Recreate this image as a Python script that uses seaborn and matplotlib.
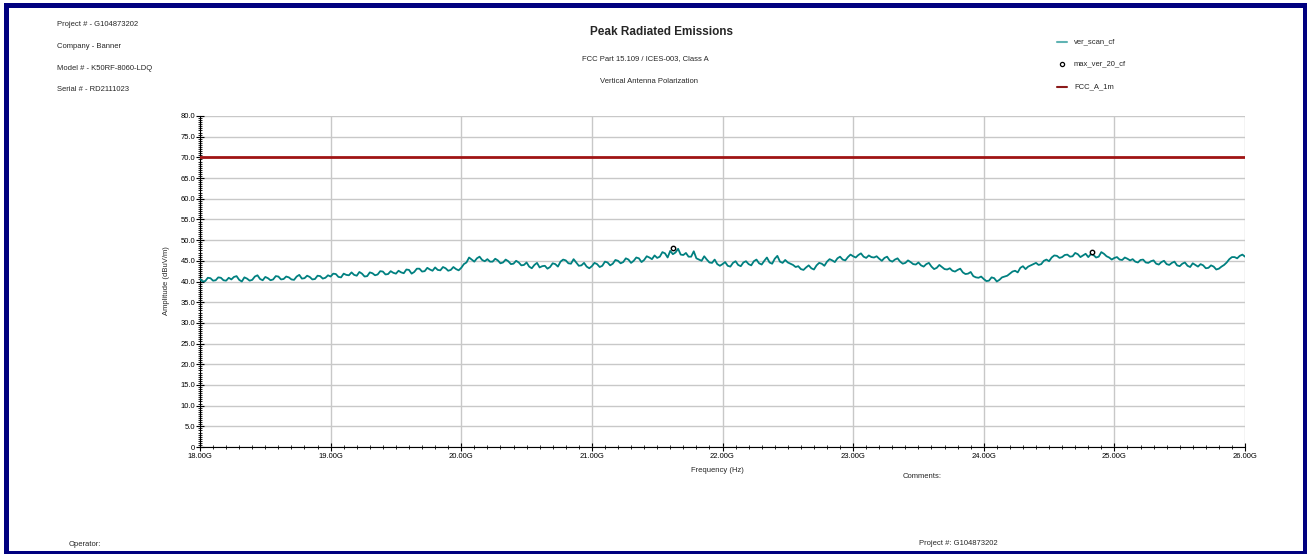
import numpy as np
import pandas as pd
import matplotlib
matplotlib.use("Agg")
import matplotlib.pyplot as plt
import seaborn as sns
from matplotlib.lines import Line2D
from matplotlib.patches import Rectangle
from matplotlib.ticker import MultipleLocator, FuncFormatter

# ---------------- data ----------------
freq_ghz = [round(18.0 + 0.04 * i, 2) for i in range(201)]
amp_scan = [
    # 18.00 - 18.96
    40.6, 40.1, 40.8, 40.3, 40.9, 40.2, 40.5, 41.3, 40.0, 40.7, 40.4, 41.5, 40.3,
    40.8, 40.5, 41.2, 40.6, 41.0, 40.4, 41.6, 40.8, 41.1, 40.6, 41.3, 40.9,
    # 19.00 - 19.96
    41.2, 41.8, 41.0, 41.6, 42.2, 41.4, 41.9, 41.3, 42.0, 41.7, 42.4, 41.8, 42.1,
    42.6, 42.0, 42.8, 42.3, 43.1, 42.5, 42.9, 43.4, 42.7, 43.2, 42.8, 43.0,
    # 20.00 - 20.96
    43.3, 44.6, 45.3, 45.6, 45.2, 45.4, 44.8, 45.1, 44.6, 44.9, 44.3, 44.6, 44.0,
    43.6, 44.0, 43.4, 43.8, 43.5, 44.2, 44.8, 45.1, 44.3, 44.6, 43.9, 43.6,
    # 21.00 - 21.96
    43.7, 44.2, 43.8, 44.6, 44.3, 45.0, 44.7, 45.3, 45.0, 45.6, 45.2, 45.8, 46.3,
    46.0, 46.8, 47.4, 47.0, 46.5, 46.9, 46.0, 45.6, 45.0, 45.3, 44.5, 44.2,
    # 22.00 - 22.96
    44.2, 43.8, 44.5, 44.0, 44.6, 44.2, 44.9, 44.4, 45.0, 44.6, 45.5, 44.8, 45.2,
    44.3, 43.5, 43.0, 43.4, 43.2, 43.9, 44.3, 44.8, 45.1, 45.6, 45.3, 45.9,
    # 23.00 - 23.96
    46.1, 46.4, 46.0, 46.3, 45.8, 45.5, 45.7, 45.1, 45.3, 44.8, 44.5, 44.7, 44.1,
    43.9, 44.2, 43.6, 43.3, 43.5, 42.9, 42.6, 42.8, 42.2, 41.9, 41.3, 40.9,
    # 24.00 - 24.96
    40.6, 40.2, 40.8, 40.4, 41.2, 41.9, 42.6, 43.3, 43.0, 43.9, 44.5, 44.2, 45.3,
    45.8, 46.2, 45.9, 46.5, 46.1, 46.6, 46.3, 45.9, 46.4, 46.0, 46.7, 45.8,
    # 25.00 - 25.96
    45.7, 45.3, 45.8, 45.1, 44.8, 45.2, 44.6, 44.9, 44.3, 44.7, 44.2, 44.5, 43.9,
    44.3, 43.8, 44.4, 43.6, 43.9, 43.3, 43.6, 43.1, 44.0, 45.4, 45.9, 46.2,
    # 26.00
    46.0,
]
freq_mid_ghz = [round(18.02 + 0.04 * i, 2) for i in range(200)]
amp_scan_mid = [
    # 18.02 - 18.98
    40.0, 40.9, 40.2, 41.0, 40.3, 40.9, 41.1, 40.4, 41.0, 40.2, 41.2, 40.6, 41.1,
    40.3, 41.3, 40.5, 41.2, 40.5, 41.2, 40.7, 41.4, 40.5, 41.4, 40.7, 41.5,
    # 19.02 - 19.98
    41.9, 41.1, 41.9, 41.5, 41.6, 42.3, 41.2, 42.2, 41.5, 42.5, 41.7, 42.5, 41.9,
    42.2, 42.9, 41.9, 43.1, 42.4, 43.3, 42.6, 42.8, 43.5, 42.6, 43.5, 42.7,
    # 20.02 - 20.98
    44.2, 45.8, 44.8, 46.0, 44.9, 44.8, 45.5, 44.4, 45.3, 44.2, 45.0, 43.9, 44.6,
    43.2, 44.5, 43.7, 43.1, 44.4, 43.6, 45.3, 44.4, 45.4, 43.8, 44.5, 43.2,
    # 21.02 - 21.98
    44.5, 43.5, 44.8, 43.9, 45.2, 44.4, 45.6, 44.5, 45.8, 44.7, 46.1, 45.4, 45.7,
    47.1, 45.8, 46.6, 47.9, 46.4, 46.0, 47.3, 45.3, 46.1, 44.6, 45.3, 43.8,
    # 22.02 - 22.98
    44.7, 43.6, 44.9, 43.7, 44.9, 43.9, 45.3, 44.1, 45.8, 44.3, 46.2, 44.5, 44.6,
    44.0, 43.7, 42.8, 43.9, 42.9, 44.5, 43.8, 45.4, 44.7, 46.0, 45.1, 46.5,
    # 23.02 - 23.98
    45.8, 46.8, 45.7, 45.9, 46.1, 45.0, 46.0, 44.8, 45.6, 44.3, 45.1, 44.2, 44.6,
    43.6, 44.5, 43.0, 44.0, 43.0, 43.2, 42.4, 43.1, 41.8, 42.3, 41.0, 41.2,
    # 24.02 - 24.98
    40.1, 41.0, 40.0, 41.0, 41.4, 42.4, 42.2, 43.7, 43.6, 44.2, 44.0, 45.0, 44.9,
    46.3, 45.7, 46.4, 46.0, 46.9, 45.9, 46.7, 46.6, 45.8, 47.1, 46.1, 45.3,
    # 25.02 - 25.98
    45.9, 45.2, 45.5, 45.4, 44.6, 45.3, 44.5, 45.1, 44.1, 45.0, 44.0, 44.8, 43.7,
    44.6, 43.5, 44.0, 44.2, 43.2, 43.9, 42.9, 43.6, 44.6, 45.9, 45.6, 46.5,
]
max_freq_ghz = [21.62, 24.83]
max_amp = [48.2, 47.2]
limit_freq_ghz = [18.0, 26.0]
limit_amp = [70.0, 70.0]

header_lines = ["Project # - G104873202", "Company - Banner",
                "Model # - K50RF-8060-LDQ", "Serial # - RD2111023"]
title = "Peak Radiated Emissions"
subtitle1 = "FCC Part 15.109 / ICES-003, Class A"
subtitle2 = "Vertical Antenna Polarization"
legend_labels = ["ver_scan_cf", "max_ver_20_cf", "FCC_A_1m"]
x_label = "Frequency (Hz)"
y_label = "Amplitude (dBuV/m)"

# ---------------- figure ----------------
sns.set_theme(style="white")
plt.rcParams["font.family"] = ["Liberation Sans", "DejaVu Sans"]

W, H = 1307, 554
fig = plt.figure(figsize=(W / 100, H / 100), dpi=100)
fig.patch.set_facecolor("white")

def fx(px):
    return px / W

def fy(py):
    return 1 - py / H

ax = fig.add_axes([fx(200), fy(447), fx(1245) - fx(200), fy(116) - fy(447)])

scan_df = pd.concat([
    pd.DataFrame({"f": freq_ghz, "a": amp_scan}),
    pd.DataFrame({"f": freq_mid_ghz, "a": amp_scan_mid}),
]).sort_values("f").reset_index(drop=True)
lim_df = pd.DataFrame({"f": limit_freq_ghz, "a": limit_amp})
max_df = pd.DataFrame({"f": max_freq_ghz, "a": max_amp})

sns.lineplot(data=scan_df, x="f", y="a", ax=ax, color="#008080", lw=1.3,
             estimator=None, sort=False, zorder=3)
sns.lineplot(data=lim_df, x="f", y="a", ax=ax, color="#a01414", lw=2.0,
             estimator=None, zorder=4)
sns.scatterplot(data=max_df, x="f", y="a", ax=ax, marker="o", s=10,
                facecolor="white", edgecolor="black", linewidth=1.0, zorder=5)

ax.set_xlim(18.0, 26.0)
ax.set_ylim(0, 80)
ax.xaxis.set_major_locator(MultipleLocator(1.0))
ax.xaxis.set_minor_locator(MultipleLocator(0.1))
ax.yaxis.set_major_locator(MultipleLocator(5.0))
ax.yaxis.set_minor_locator(MultipleLocator(0.5))
ax.xaxis.set_major_formatter(FuncFormatter(lambda v, p: f"{v:.2f}G"))
ax.yaxis.set_major_formatter(FuncFormatter(lambda v, p: "0" if abs(v) < 1e-9 else f"{v:.1f}"))

ax.grid(True, which="major", color="#c8c8c8", lw=1.0, zorder=0)
ax.set_axisbelow(True)
for s in ["top", "right"]:
    ax.spines[s].set_visible(False)
for s in ["left", "bottom"]:
    ax.spines[s].set_visible(True)
    ax.spines[s].set_color("black")
    ax.spines[s].set_linewidth(0.8)

ax.tick_params(axis="x", which="both", bottom=True, top=False)
ax.tick_params(axis="y", which="both", left=True, right=False)
ax.tick_params(axis="both", which="major", direction="inout", length=6, width=0.8,
               color="black", labelsize=5.5, labelcolor="black")
ax.tick_params(axis="both", which="minor", direction="inout", length=3, width=0.6,
               color="black")
ax.tick_params(axis="x", which="major", pad=1)
ax.tick_params(axis="y", which="major", pad=0.5)
ax.set_xlabel("")
ax.set_ylabel("")

# axis labels
fig.text(fx(717), fy(470), x_label, ha="center", va="center", fontsize=5.5)
fig.text(fx(167), fy(281), y_label, ha="center", va="center", fontsize=5.5, rotation=90)

# header text
for i, t in enumerate(header_lines):
    fig.text(fx(57), fy([25, 47, 68, 89][i]), t, ha="left", va="center", fontsize=5.5)

fig.text(fx(662), fy(32), title, ha="center", va="center", fontsize=8.5, fontweight="bold")
fig.text(fx(645), fy(58.5), subtitle1, ha="center", va="center", fontsize=5.5)
fig.text(fx(649), fy(81.5), subtitle2, ha="center", va="center", fontsize=5.5)

# legend (manual)
fig.add_artist(Line2D([fx(1057), fx(1067)], [fy(42), fy(42)], color="#5fb3b3", lw=1.5))
fig.add_artist(Line2D([fx(1062)], [fy(64)], marker="o", ms=3, mfc="white",
                      mec="black", mew=0.9, lw=0))
fig.add_artist(Line2D([fx(1057), fx(1067)], [fy(87), fy(87)], color="#8b1a1a", lw=1.5))
for yy, lab in zip([42, 64, 87], legend_labels):
    fig.text(fx(1074), fy(yy), lab, ha="left", va="center", fontsize=5.5)

# footer text
fig.text(fx(903), fy(476), "Comments:", ha="left", va="center", fontsize=5.5)
fig.text(fx(69), fy(544), "Operator:", ha="left", va="center", fontsize=5.5)
fig.text(fx(919), fy(543.5), "Project #: G104873202", ha="left", va="center", fontsize=5.5)

# navy frame
fig.add_artist(Rectangle((fx(5.5), fy(552.5)), fx(1304.5) - fx(5.5), fy(5) - fy(552.5),
                         transform=fig.transFigure, fill=False, edgecolor="#00007f",
                         lw=3.6, zorder=10))

fig.savefig("out.png", dpi=100, facecolor="white")
